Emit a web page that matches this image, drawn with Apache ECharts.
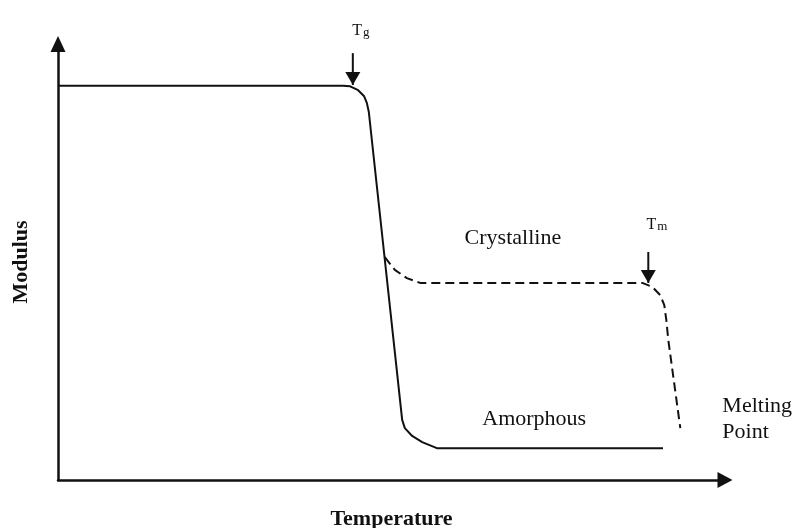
<!DOCTYPE html>
<html>
<head>
<meta charset="utf-8">
<script src="https://cdn.jsdelivr.net/npm/echarts@6/dist/echarts.min.js"></script>
<style>
  html, body { margin: 0; padding: 0; background: #fff; }
  #chart { width: 797px; height: 528px; }
</style>
</head>
<body>
<div id="chart"></div>
<script>
// region data (axes run 0..100, schematic units)
const amorphousX = [0, 42.7, 43.8, 45.0, 45.9, 46.3, 46.6, 51.6, 52.0, 53.1, 54.6, 56.8, 90.7]
const amorphousY = [90.4, 90.4, 90.3, 89.4, 88.0, 86.5, 84.4, 13.8, 11.9, 10.1, 8.7, 7.3, 7.3]

const crystallineX = [49.0, 50.5, 52.3, 54.3, 87.6, 89.1, 90.3, 90.9, 91.2, 91.5, 93.3]
const crystallineY = [51.1, 48.2, 46.3, 45.2, 45.2, 44.3, 42.4, 40.1, 36.7, 32.1, 11.9]

// marker arrows: [x, yFrom, yTip]
const tgArrow = [44.2, 97.9, 90.6]
const tmArrow = [88.5, 52.3, 45.2]

// text labels
const labelTexts = ['{t|T}{s|g}', '{t|T}{s|m}', 'Crystalline', 'Amorphous', 'Melting\nPoint']
const labelX = [45.4, 89.8, 68.2, 71.4, 99.6]
const labelY = [103.4, 58.9, 55.5, 14.0, 14.0]
const labelAlign = ['center', 'center', 'center', 'center', 'left']
// endregion

const font = 'Liberation Serif'
const ink = '#111'

const zip = (xs, ys) => xs.map((x, i) => [x, ys[i]])

const arrowData = (a) => [
  { value: [a[0], a[1]], symbol: 'none' },
  {
    value: [a[0], a[2]],
    symbol: 'triangle',
    symbolRotate: 180,
    symbolSize: [15, 13],
    symbolOffset: [0, -6.5],
  },
]

const arrowSeries = (a) => ({
  type: 'line',
  data: arrowData(a),
  lineStyle: { color: ink, width: 2 },
  itemStyle: { color: ink },
  showSymbol: true,
  clip: false,
  silent: true,
})

const chart = echarts.init(document.getElementById('chart'))
chart.setOption({
  animation: false,
  backgroundColor: '#fff',
  grid: { left: 58, right: 72, top: 44, bottom: 48, containLabel: false, outerBoundsMode: 'none' },
  xAxis: {
    type: 'value',
    min: 0,
    max: 100,
    name: 'Temperature',
    nameLocation: 'middle',
    nameGap: 28,
    nameTextStyle: { fontFamily: font, fontWeight: 'bold', fontSize: 22, color: ink },
    axisLine: {
      show: true,
      symbol: ['none', 'triangle'],
      symbolSize: [16, 15],
      lineStyle: { color: ink, width: 2.5 },
    },
    axisTick: { show: false },
    axisLabel: { show: false },
    splitLine: { show: false },
  },
  yAxis: {
    type: 'value',
    min: 0,
    max: 100,
    name: 'Modulus',
    nameLocation: 'middle',
    nameRotate: 90,
    nameGap: 26,
    nameTextStyle: { fontFamily: font, fontWeight: 'bold', fontSize: 22, color: ink },
    axisLine: {
      show: true,
      symbol: ['none', 'triangle'],
      symbolSize: [15, 16],
      lineStyle: { color: ink, width: 2.5 },
    },
    axisTick: { show: false },
    axisLabel: { show: false },
    splitLine: { show: false },
  },
  series: [
    {
      name: 'Amorphous',
      type: 'line',
      data: zip(amorphousX, amorphousY),
      showSymbol: false,
      lineStyle: { color: ink, width: 2 },
      silent: true,
    },
    {
      name: 'Crystalline',
      type: 'line',
      data: zip(crystallineX, crystallineY),
      showSymbol: false,
      lineStyle: { color: ink, width: 2, type: [9, 5] },
      silent: true,
    },
    arrowSeries(tgArrow),
    arrowSeries(tmArrow),
    {
      type: 'scatter',
      symbolSize: 0,
      clip: false,
      silent: true,
      itemStyle: { opacity: 1 },
      data: labelTexts.map((t, i) => ({
        value: [labelX[i], labelY[i]],
        label: {
          show: true,
          position: 'inside',
          align: labelAlign[i],
          verticalAlign: 'middle',
          formatter: t,
          fontFamily: font,
          fontSize: 22,
          lineHeight: 26,
          color: ink,
          rich: {
            t: { fontFamily: font, fontSize: 16, color: ink, verticalAlign: 'bottom', lineHeight: 20 },
            s: { fontFamily: font, fontSize: 13, color: ink, verticalAlign: 'bottom', lineHeight: 20, padding: [10, 0, 0, 1] },
          },
        },
      })),
    },
  ],
})
</script>
</body>
</html>
